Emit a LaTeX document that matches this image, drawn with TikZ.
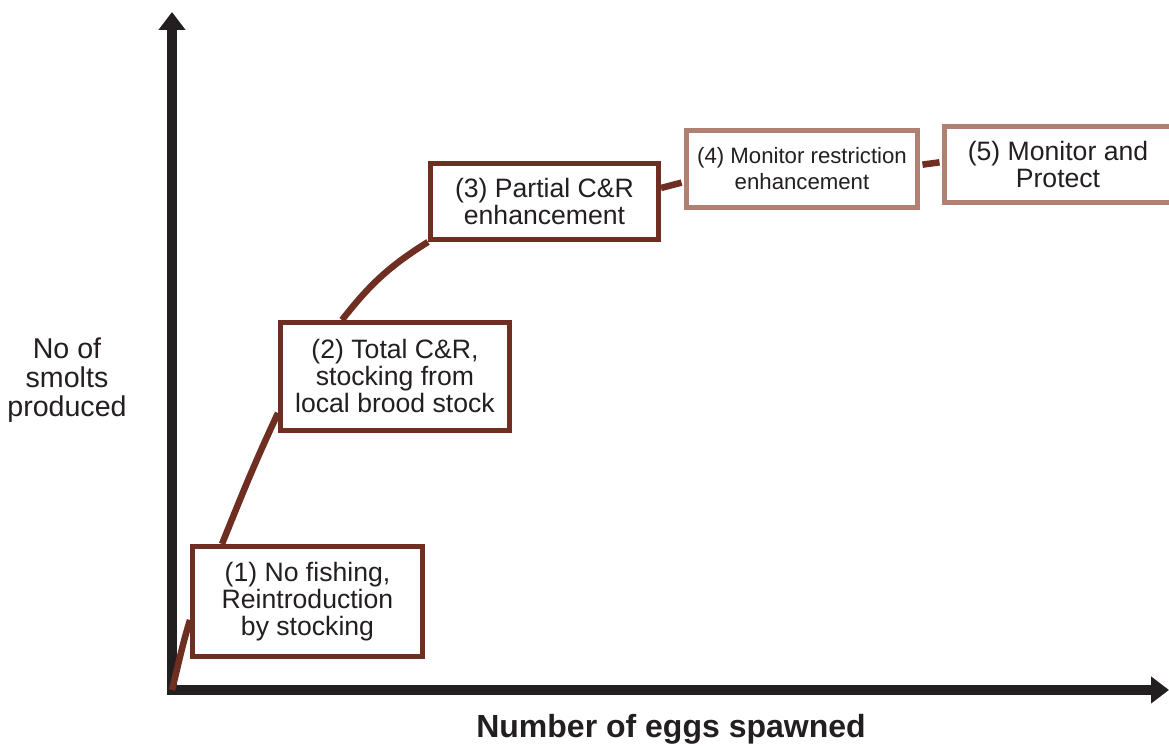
\documentclass[tikz,border=0pt]{standalone}
\usepackage{fontspec}
\setmainfont{Liberation Sans}
\usetikzlibrary{arrows.meta}
\definecolor{axisblack}{HTML}{231F20}
\definecolor{rust}{HTML}{6F2E22}
\definecolor{rustlight}{HTML}{B08072}

\begin{document}
\begin{tikzpicture}[x=0.5pt,y=0.5pt,>={Triangle[width=13pt,length=9pt]},
  axis/.style={axisblack,line width=5pt},
  stage/.style={draw=rust,line width=2.5pt,fill=white,text=axisblack,align=center,
    inner sep=0pt,font=\fontsize{13.3}{13.5}\selectfont},
  late/.style={stage,draw=rustlight},
  curve/.style={rust,line width=3.25pt}]
\useasboundingbox (0,0) rectangle (1169,747);
% axes
\coordinate (O) at (172,57);
\coordinate (ytip) at (172,735);
\coordinate (xtip) at (1169,57);
\draw[axis,<->] (ytip)--(O)--(xtip);
\node[font=\fontsize{14.3}{14.5}\selectfont,align=center,text=axisblack] (ylab) at (67,367) {No of\\smolts\\produced};
\node[font=\fontsize{16}{19}\selectfont\bfseries,text=axisblack] (xlab) at (671,18) {Number of eggs spawned};
% stages
\node[stage,minimum width=115pt,minimum height=55pt] (b1) at (307.5,145.5) {(1) No fishing,\\Reintroduction\\by stocking};
\node[stage,minimum width=114.5pt,minimum height=54pt] (b2) at (395,370.5) {(2) Total C\&R,\\stocking from\\local brood stock};
\node[stage,minimum width=114pt,minimum height=38pt] (b3) at (544.5,545.5) {(3) Partial C\&R\\enhancement};
\node[late,minimum width=115.5pt,minimum height=38.5pt,font=\fontsize{11.1}{13}\selectfont] (b4) at (802,578) {(4) Monitor restriction\\enhancement};
\node[late,minimum width=113.5pt,minimum height=38pt] (b5) at (1058,582.5) {(5) Monitor and\\Protect};
% curve
\draw[curve] (O) to[out=76,in=253] ([yshift=-9.25pt]b1.west);
\draw[curve] ([xshift=-42.75pt]b1.north) to[out=68,in=245] ([yshift=-18.25pt]b2.west);
\draw[curve] ([xshift=-26.5pt]b2.north) to[out=52,in=212] (b3.south west);
\draw[curve,shorten >=1.25pt] ([yshift=6.75pt]b3.east) -- ([yshift=-6.5pt]b4.west);
\draw[curve,shorten <=1.25pt,shorten >=1.25pt] ([yshift=2pt]b4.east) -- ([yshift=1.25pt]b5.west);
\end{tikzpicture}
\end{document}
